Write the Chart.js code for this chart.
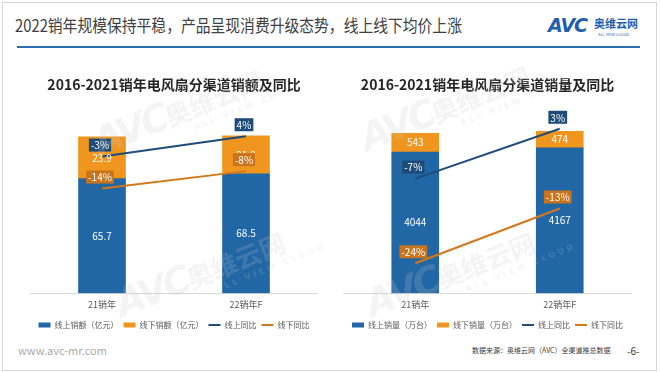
<!DOCTYPE html>
<html>
<head>
<meta charset="utf-8">
<script src="https://cdn.jsdelivr.net/npm/chart.js@4/dist/chart.umd.min.js"></script>
<style>
    body { margin: 0; width: 660px; height: 372px; background: #fff; overflow: hidden; position: relative;
           font-family: "Noto Sans CJK SC", "Noto Sans", sans-serif; }
    .frame { position: absolute; left: 2px; top: 2px; width: 653px; height: 367px; border: 1px solid #d6d6d6; }
    .title { position: absolute; left: 15px; top: 12px; font-size: 17px; color: #404040; white-space: nowrap;
             transform: scaleX(0.87); transform-origin: left top; }
    .rule { position: absolute; left: 17px; top: 46px; width: 623px; height: 2px; background: #2f6db3; }
    .logo { position: absolute; left: 548px; top: 14px; color: #1f5fae; }
    .logo .avc { position: absolute; left: 0; top: 0; font: italic 900 19px "DejaVu Sans", sans-serif; letter-spacing: -1px; }
    .logo .cn { position: absolute; left: 46px; top: 1px; font-size: 11px; font-weight: bold; white-space: nowrap; }
    .logo .en { position: absolute; left: 50px; top: 17px; font-size: 4px; white-space: nowrap; }
    .box { position: absolute; top: 58px; height: 281px; }
    .foot { position: absolute; top: 342px; font-size: 11px; color: #ababab; }
    .src { position: absolute; top: 345px; left: 472px; font-size: 7px; color: #404040; white-space: nowrap; }
    .page { position: absolute; top: 343px; left: 627px; font-size: 10px; color: #404040; }
    .wm { position: absolute; color: rgba(200,200,200,0.2); white-space: nowrap; pointer-events: none;
          transform: translate(-50%, -50%) rotate(-22deg); }
    .wm b { font: italic 900 38px "DejaVu Sans", sans-serif; letter-spacing: -3px; }
    .wm i { font-style: normal; font-size: 26px; font-weight: bold; }
    .wm s { position: absolute; left: 98px; top: 40px; text-decoration: none; font: bold 8px "DejaVu Sans", sans-serif; letter-spacing: 3px; }
</style>
</head>
<body>
<div class="frame"></div>
<div class="title">2022销年规模保持平稳，产品呈现消费升级态势，线上线下均价上涨</div>
<div class="rule"></div>
<div class="logo"><span class="avc">AVC</span><span class="cn">奥维云网</span><span class="en">ALL VIEW CLOUD</span></div>
<div class="box" style="left:30px;width:288px"><canvas id="left"></canvas></div>
<div class="box" style="left:343px;width:289px"><canvas id="right"></canvas></div>
<div class="foot" style="left:18px">www.avc-mr.com</div>
<div class="src">数据来源：奥维云网（AVC）全渠道推总数据</div>
<div class="page">-6-</div>
<div class="wm" style="left:178px;top:110px"><b>AVC</b><i>奥维云网</i><s>ALL VIEW CLOUD</s></div>
<div class="wm" style="left:200px;top:272px"><b>AVC</b><i>奥维云网</i><s>ALL VIEW CLOUD</s></div>
<div class="wm" style="left:445px;top:106px"><b>AVC</b><i>奥维云网</i><s>ALL VIEW CLOUD</s></div>
<div class="wm" style="left:450px;top:272px"><b>AVC</b><i>奥维云网</i><s>ALL VIEW CLOUD</s></div>

<script>
var years = ["21销年", "22销年F"];

// 销额（亿元）
var onlineSales = [65.7, 68.5];
var offlineSales = [23.9, 21.8];
var onlineSalesYoy = [-3, 4];
var offlineSalesYoy = [-14, -8];

// 销量（万台）
var onlineVolume = [4044, 4167];
var offlineVolume = [543, 474];
var onlineVolumeYoy = [-7, 3];
var offlineVolumeYoy = [-24, -13];

var blue = "#2166a5";
var orange = "#f0961e";
var navy = "#1e4c7a";
var brown = "#d27818";
var cjk = "'Noto Sans CJK SC', sans-serif";

var valueLabels = {
    id: "valueLabels",
    afterDatasetsDraw: function (chart) {
        var ctx = chart.ctx;
        ctx.save();
        ctx.font = "10px " + cjk;
        ctx.textAlign = "center";
        ctx.textBaseline = "middle";
        // bar values first
        chart.data.datasets.forEach(function (ds, i) {
            if (ds.type !== "bar") return;
            chart.getDatasetMeta(i).data.forEach(function (el, j) {
                ctx.fillStyle = "#fff";
                ctx.fillText(String(ds.data[j]), el.x, (el.y + el.base) / 2);
            });
        });
        // yoy boxes
        chart.data.datasets.forEach(function (ds, i) {
            if (ds.type !== "line") return;
            chart.getDatasetMeta(i).data.forEach(function (el, j) {
                var txt = ds.data[j] + "%";
                var w = ctx.measureText(txt).width + 4;
                var y = el.y - 11;
                ctx.fillStyle = ds.labelBg;
                ctx.fillRect(el.x - w / 2 - 2, y - 7, w, 13);
                ctx.fillStyle = "#fff";
                ctx.fillText(txt, el.x - 2, y);
            });
        });
        ctx.restore();
    }
};

function makeChart(id, title, barNames, onl, offl, onYoy, offYoy, yMax, y2Min, y2Max) {
    return new Chart(document.getElementById(id), {
        type: "bar",
        data: {
            labels: years,
            datasets: [{
                type: "bar",
                label: barNames[0],
                data: onl,
                backgroundColor: blue,
                barThickness: 47,
                pointStyle: "rect",
                order: 1
            }, {
                type: "bar",
                label: barNames[1],
                data: offl,
                backgroundColor: orange,
                barThickness: 47,
                pointStyle: "rect",
                order: 1
            }, {
                type: "line",
                label: "线上同比",
                data: onYoy,
                yAxisID: "y2",
                borderColor: navy,
                backgroundColor: navy,
                labelBg: navy,
                borderWidth: 2,
                pointRadius: 0,
                pointStyle: "line",
                order: 0
            }, {
                type: "line",
                label: "线下同比",
                data: offYoy,
                yAxisID: "y2",
                borderColor: brown,
                backgroundColor: brown,
                labelBg: "#c8741c",
                borderWidth: 2,
                pointRadius: 0,
                pointStyle: "line",
                order: 0
            }]
        },
        options: {
            responsive: true,
            maintainAspectRatio: false,
            animation: false,
            layout: { padding: 0 },
            plugins: {
                title: {
                    display: true,
                    text: title,
                    color: "#262626",
                    font: { size: 14, weight: "bold", family: cjk },
                    padding: { top: 18, bottom: 26 }
                },
                legend: {
                    position: "bottom",
                    labels: {
                        usePointStyle: true,
                        pointStyleWidth: 12,
                        boxHeight: 5,
                        padding: 5,
                        color: "#595959",
                        font: { size: 8, family: cjk },
                        sort: function (a, b) { return a.datasetIndex - b.datasetIndex; }
                    }
                },
                tooltip: { enabled: false }
            },
            scales: {
                x: {
                    stacked: true,
                    grid: { display: false, drawTicks: false },
                    border: { color: "#d9d9d9" },
                    ticks: { color: "#595959", padding: 6, font: { size: 9, family: cjk } }
                },
                y: { stacked: true, min: 0, max: yMax, display: false },
                y2: { min: y2Min, max: y2Max, display: false }
            }
        },
        plugins: [valueLabels]
    });
}

makeChart("left", "2016-2021销年电风扇分渠道销额及同比", ["线上销额（亿元）", "线下销额（亿元）"],
    onlineSales, offlineSales, onlineSalesYoy, offlineSalesYoy, 100, -50, 10);
makeChart("right", "2016-2021销年电风扇分渠道销量及同比", ["线上销量（万台）", "线下销量（万台）"],
    onlineVolume, offlineVolume, onlineVolumeYoy, offlineVolumeYoy, 5000, -30, 5);
</script>
</body>
</html>
